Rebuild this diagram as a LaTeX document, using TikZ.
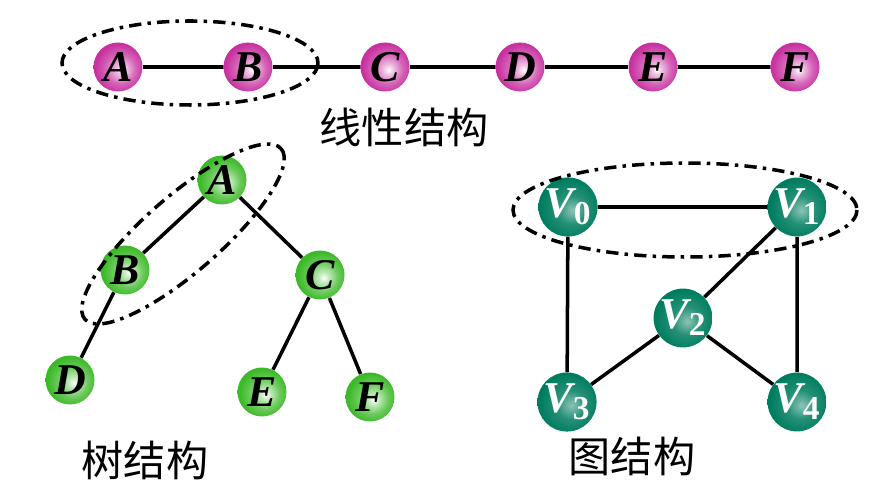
\documentclass[tikz,border=0pt]{standalone}
\usepackage{fontspec}
\setmainfont{Liberation Serif}
\newfontfamily\cjk{Noto Sans CJK SC}
\usepackage{tikz}

\definecolor{linc}{RGB}{200,50,160}
\definecolor{treec}{RGB}{60,185,40}
\definecolor{graphc}{RGB}{0,125,95}
\pgfdeclareradialshading{linshade}{\pgfpoint{4bp}{-3bp}}{color(0bp)=(white); color(5bp)=(linc!30!white); color(15bp)=(linc!75!white); color(25bp)=(linc); color(50bp)=(linc)}
\pgfdeclareradialshading{treeshade}{\pgfpoint{4bp}{-3bp}}{color(0bp)=(white); color(5bp)=(treec!30!white); color(15bp)=(treec!75!white); color(25bp)=(treec); color(50bp)=(treec)}
\pgfdeclareradialshading{graphshade}{\pgfpoint{4bp}{-3bp}}{color(0bp)=(graphc!45!white); color(12bp)=(graphc!85!white); color(25bp)=(graphc); color(50bp)=(graphc)}

\begin{document}
\begin{tikzpicture}[x=0.02cm, y=-0.02cm]
  % Define styles
  \tikzstyle{ballnode} = [circle, minimum size=0.98cm, inner sep=0pt, font=\fontsize{25}{25}\selectfont\bfseries\itshape]
  \tikzstyle{linball} = [ballnode, shading=linshade]
  \tikzstyle{treeball} = [ballnode, shading=treeshade]
  \tikzstyle{graphball} = [ballnode, shading=graphshade, text=white]
  \tikzstyle{edge} = [line width=2pt]
  \tikzstyle{group} = [line width=2pt, dash pattern=on 7pt off 3.5pt on 2pt off 3.5pt]
  \tikzstyle{caption} = [font=\cjk\fontsize{24}{24}\selectfont]

  \useasboundingbox (0,0) rectangle (874,482);

  % Linear structure
  \node[linball] (la) at (118,67) {A};
  \node[linball] (lb) at (248,67) {B};
  \node[linball] (lc) at (385,67) {C};
  \node[linball] (ld) at (520,67) {D};
  \node[linball] (le) at (653,67) {E};
  \node[linball] (lf) at (795,67) {F};
  \draw[edge] (la) -- (lb) -- (lc) -- (ld) -- (le) -- (lf);
  \draw[group] (190,63) ellipse [x radius=128, y radius=42];
  \node[caption] (lincap) at (404,127) {线性结构};

  % Tree structure
  \node[treeball] (ta) at (222,180) {A};
  \node[treeball] (tb) at (125,270) {B};
  \node[treeball] (tc) at (320,275) {C};
  \node[treeball] (td) at (70,380) {D};
  \node[treeball] (te) at (262,392) {E};
  \node[treeball] (tf) at (370,397) {F};
  \draw[edge] (ta) -- (tb) -- (td);
  \draw[edge] (ta) -- (tc) -- (te);
  \draw[edge] (tc) -- (tf);
  \draw[group, shift={(183,234)}, rotate=41] (0,0) ellipse [x radius=130, y radius=38];
  \node[caption] (treecap) at (145,460) {树结构};

  % Graph structure
  \node[graphball] (v0) at (568,207) {V\textsubscript{\upshape\fontsize{19}{19}\selectfont 0}};
  \node[graphball] (v1) at (797,207) {V\textsubscript{\upshape\fontsize{19}{19}\selectfont 1}};
  \node[graphball] (v2) at (683,318) {V\textsubscript{\upshape\fontsize{19}{19}\selectfont 2}};
  \node[graphball] (v3) at (567,402) {V\textsubscript{\upshape\fontsize{19}{19}\selectfont 3}};
  \node[graphball] (v4) at (797,402) {V\textsubscript{\upshape\fontsize{19}{19}\selectfont 4}};
  \draw[edge] (v0) -- (v1) -- (v2) -- (v3) -- (v0);
  \draw[edge] (v1) -- (v4) -- (v2);
  \draw[group] (685,210) ellipse [x radius=172, y radius=47];
  \node[caption] (graphcap) at (632,456) {图结构};

\end{tikzpicture}
\end{document}
